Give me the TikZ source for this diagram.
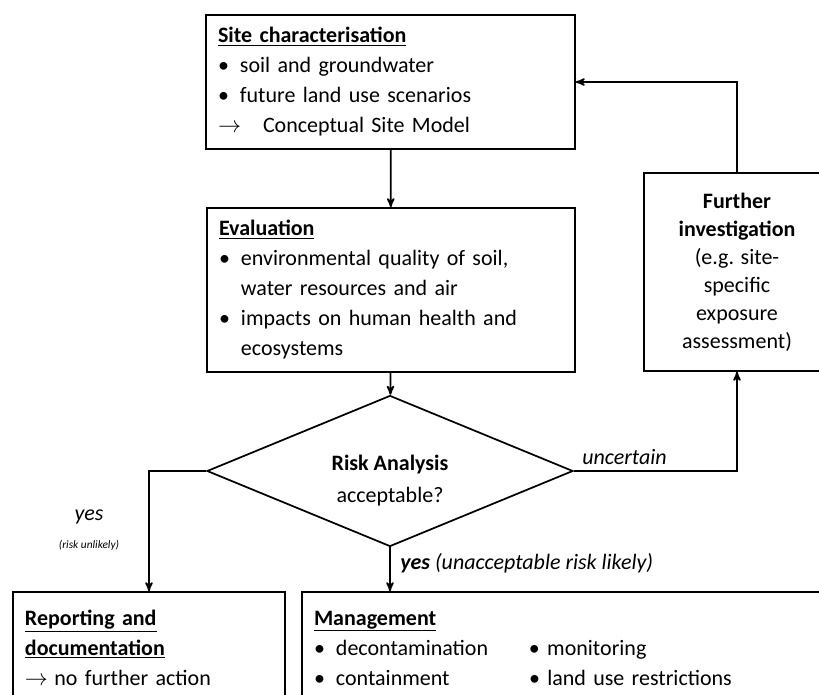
\documentclass[tikz,border=0pt]{standalone}
\usepackage{fontspec}
\setmainfont{Carlito}
\usetikzlibrary{arrows,positioning,shapes.geometric}
\newcommand{\fsize}{\fontsize{16.5}{22.5}\selectfont\hyphenpenalty=10000\relax}
\newcommand{\bitem}[1]{\par\hangindent=16.5pt\hangafter=1\noindent\makebox[16.5pt][l]{\textbullet}#1\par}
\newcommand{\aitem}[2]{\par\noindent\makebox[#1][l]{$\rightarrow$}#2\par}
\tikzset{
    %Define standard arrow tip
    >=stealth',
    %Define style for boxes
    stepbox/.style={
           rectangle,
           draw=black, line width=1.3pt,
           inner xsep=9pt, inner ysep=0pt,
           font=\fsize,
           align=left},
    decide/.style={
           diamond,
           draw=black, line width=1.3pt,
           aspect=2.4,
           inner sep=0pt,
           font=\fsize,
           align=center},
    % Define arrow style
    pil/.style={
           ->,
           line width=1.3pt},
    lbl/.style={font=\fsize\itshape, inner sep=0pt}
}

\begin{document}
\begin{tikzpicture}[x=0.75pt,y=-0.75pt]
\clip (0,0) rectangle (819,695);

 %nodes
\node[stepbox, minimum width=276.75pt, minimum height=100.5pt, text width=258.75pt] (site) at (390.5,82)
  {\textbf{\underline{Site characterisation}}
   \bitem{soil and groundwater}
   \bitem{future land use scenarios}
   \aitem{33.75pt}{Conceptual Site Model}};
\node[stepbox, minimum width=276pt, minimum height=123pt, text width=258pt] (eval) at (391,290)
  {\textbf{\underline{Evaluation}}
   \bitem{environmental quality of soil, water resources and air}
   \bitem{impacts on human health and ecosystems}};
\node[decide, minimum width=274.5pt, minimum height=113.25pt] (risk) at (390,471)
  {\raisebox{-7pt}[\height][\depth]{\begin{tabular}{@{}c@{}}\textbf{Risk Analysis}\\[1.5pt]acceptable?\end{tabular}}};
\node[stepbox, minimum width=139.5pt, minimum height=148.5pt, align=center,
  font=\fontsize{16.5}{21}\selectfont] (further) at (737,272)
  {\textbf{Further}\\\textbf{investigation}\\(e.g. site-\\specific\\exposure\\assessment)};
\node[stepbox, minimum width=204pt, minimum height=84pt, text width=186pt] (report) at (149,648)
  {\textbf{\underline{Reporting and}}\par\noindent\textbf{\underline{documentation}}
   \aitem{22pt}{no further action}};
\node[stepbox, minimum width=448.5pt, minimum height=84pt, text width=430.5pt] (mgmt) at (601,648)
  {\textbf{\underline{Management}}
   \bitem{\makebox[144.75pt][l]{decontamination}\textbullet\ monitoring}
   \bitem{\makebox[144.75pt][l]{containment}\textbullet\ land use restrictions}};

 %labels
\node[lbl, anchor=west] (unc) at (582,457) {uncertain};
\node[lbl] (yesa) at (89,517) {yes};
\node[lbl, font=\fontsize{8.5}{9}\selectfont\itshape] (yesb) at (89,545) {(risk unlikely)};
\node[lbl, anchor=west] (yesc) at (400,563) {\textbf{yes} (unacceptable risk likely)};

 %connectors
\draw[pil] (site) -- (eval);
\draw[pil] (eval) -- (risk);
\draw[pil] (risk.west) -| (report);
\draw[pil] (risk.south) -- (risk.south |- mgmt.north);
\draw[pil] (risk.east) -| (further);
\draw[pil] (further.north) |- (site.east);

\end{tikzpicture}
\end{document}
